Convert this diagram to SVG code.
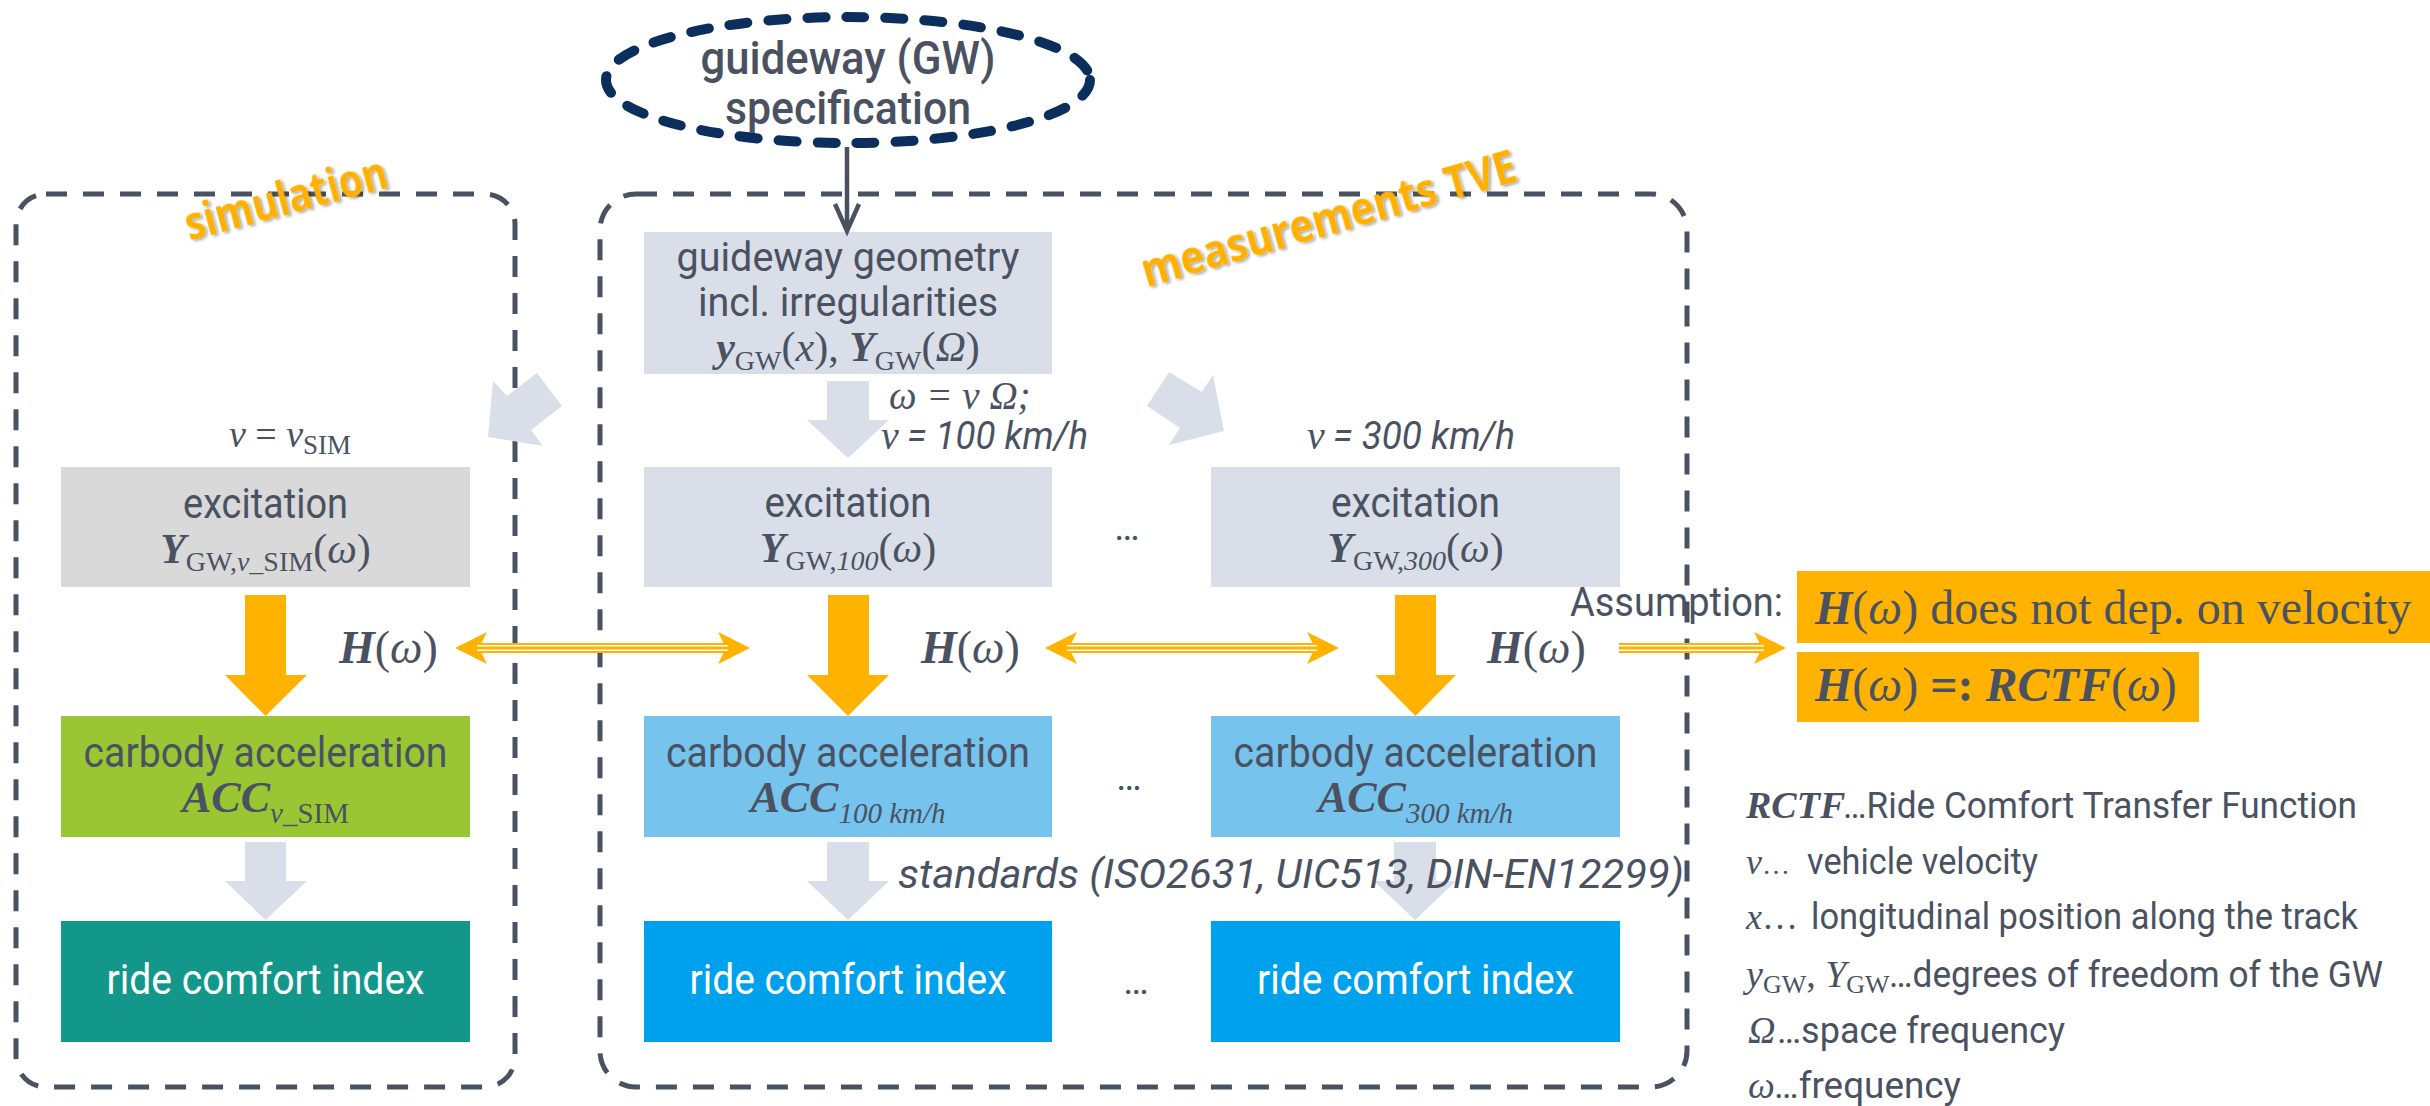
<svg xmlns="http://www.w3.org/2000/svg" width="2430" height="1106" viewBox="0 0 2430 1106">
  <defs>
    <style>
      .sans{font-family:Roboto,'Liberation Sans',Arial,sans-serif;fill:#4a5262}
      .serif{font-family:'Liberation Serif','Times New Roman',serif;fill:#4a5262}
      .bi{font-weight:bold;font-style:italic}
      .it{font-style:italic}
      .frame{fill:none;stroke:#4a5262;stroke-width:5;stroke-dasharray:21 16}
      .spec{fill:none;stroke:#0b2e5c;stroke-width:10;stroke-dasharray:18 21;stroke-linecap:round}
      .pale{fill:#d9dee8}
      .sim-exc{fill:#d9d9d9}
      .acc-sim{fill:#9ac633}
      .acc-meas{fill:#76c3ee}
      .rci-sim{fill:#12978a}
      .rci-meas{fill:#00a1ec}
      .white{fill:#ffffff}
      .tag{font-family:'Open Sans','Liberation Sans',sans-serif;font-weight:bold;font-size:47px;fill:#ffb000}
      .flow{fill:#ffb300}
      .step{fill:#d9dee8}
      .tri{fill:none;stroke:#ffb300;stroke-width:10}
      .triw{fill:none;stroke:#ffffff;stroke-width:1.6}
      .feed{fill:none;stroke:#4a5262;stroke-width:4.5}
      .note{fill:#ffb300}
    </style>
    <marker id="head" viewBox="-12 -17 36 34" markerUnits="userSpaceOnUse" markerWidth="36" markerHeight="34" refX="0" refY="0" orient="auto-start-reverse">
      <path d="M22,0 L-10,-16 L-2,0 L-10,16 Z" fill="#ffb300"/>
    </marker>
    <filter id="shade" x="-10%" y="-40%" width="120%" height="180%">
      <feDropShadow dx="2" dy="2" stdDeviation="1.5" flood-color="#000" flood-opacity="0.35"/>
    </filter>
  </defs>

  <!-- dashed frames -->
  <g id="frame-sim">
    <rect class="frame" x="16" y="194" width="499" height="893" rx="30"/>
  </g>
  <g id="frame-tve">
    <rect class="frame" x="600" y="194" width="1087" height="893" rx="36"/>
  </g>

  <!-- guideway specification -->
  <g id="gw-spec">
    <ellipse class="spec" cx="848" cy="80" rx="242" ry="63"/>
    <text class="sans" font-size="46" font-weight="500" x="848" y="74" text-anchor="middle" textLength="295" lengthAdjust="spacingAndGlyphs">guideway (GW)</text>
    <text class="sans" font-size="46" font-weight="500" x="848" y="124" text-anchor="middle" textLength="246" lengthAdjust="spacingAndGlyphs">specification</text>
  </g>

  <!-- guideway geometry -->
  <g id="geometry">
    <rect class="pale" x="644" y="232" width="408" height="142"/>
    <text class="sans" font-size="40" x="848" y="271" text-anchor="middle" textLength="343" lengthAdjust="spacingAndGlyphs">guideway geometry</text>
    <text class="sans" font-size="40" x="848" y="316" text-anchor="middle" textLength="300" lengthAdjust="spacingAndGlyphs">incl. irregularities</text>
    <text class="serif" font-size="42" x="848" y="361" text-anchor="middle"><tspan class="bi">y</tspan><tspan font-size="28" dy="9">GW</tspan><tspan dy="-9">(</tspan><tspan class="it">x</tspan><tspan>), </tspan><tspan class="bi">Y</tspan><tspan font-size="28" dy="9">GW</tspan><tspan dy="-9">(</tspan><tspan class="it">Ω</tspan><tspan>)</tspan></text>
  </g>

  <!-- excitation nodes -->
  <g id="exc-sim">
    <rect class="sim-exc" x="61" y="467" width="409" height="120"/>
    <text class="sans" font-size="43" x="265.5" y="518" text-anchor="middle" textLength="165" lengthAdjust="spacingAndGlyphs">excitation</text>
    <text class="serif" font-size="42" x="265.5" y="563" text-anchor="middle"><tspan class="bi">Y</tspan><tspan font-size="28" dy="8">GW,</tspan><tspan font-size="28" class="it">v</tspan><tspan font-size="28">_SIM</tspan><tspan dy="-8">(</tspan><tspan class="it">ω</tspan><tspan>)</tspan></text>
  </g>
  <g id="exc-100">
    <rect class="pale" x="644" y="467" width="408" height="120"/>
    <text class="sans" font-size="43" x="848" y="517" text-anchor="middle" textLength="167" lengthAdjust="spacingAndGlyphs">excitation</text>
    <text class="serif" font-size="42" x="848" y="562" text-anchor="middle"><tspan class="bi">Y</tspan><tspan font-size="28" dy="8">GW,</tspan><tspan font-size="28" class="it">100</tspan><tspan dy="-8">(</tspan><tspan class="it">ω</tspan><tspan>)</tspan></text>
  </g>
  <g id="exc-300">
    <rect class="pale" x="1211" y="467" width="409" height="120"/>
    <text class="sans" font-size="43" x="1415.5" y="517" text-anchor="middle" textLength="169" lengthAdjust="spacingAndGlyphs">excitation</text>
    <text class="serif" font-size="42" x="1415.5" y="562" text-anchor="middle"><tspan class="bi">Y</tspan><tspan font-size="28" dy="8">GW,</tspan><tspan font-size="28" class="it">300</tspan><tspan dy="-8">(</tspan><tspan class="it">ω</tspan><tspan>)</tspan></text>
  </g>

  <!-- carbody acceleration nodes -->
  <g id="acc-sim">
    <rect class="acc-sim" x="61" y="716" width="409" height="121"/>
    <text class="sans" font-size="43" x="265.5" y="767" text-anchor="middle" textLength="364" lengthAdjust="spacingAndGlyphs">carbody acceleration</text>
    <text class="serif" font-size="44" x="265.5" y="812" text-anchor="middle"><tspan class="bi">ACC</tspan><tspan font-size="29" dy="11" class="it">v</tspan><tspan font-size="29">_SIM</tspan></text>
  </g>
  <g id="acc-100">
    <rect class="acc-meas" x="644" y="716" width="408" height="121"/>
    <text class="sans" font-size="43" x="848" y="767" text-anchor="middle" textLength="364" lengthAdjust="spacingAndGlyphs">carbody acceleration</text>
    <text class="serif" font-size="44" x="848" y="812" text-anchor="middle"><tspan class="bi">ACC</tspan><tspan font-size="29" dy="11" class="it">100 km/h</tspan></text>
  </g>
  <g id="acc-300">
    <rect class="acc-meas" x="1211" y="716" width="409" height="121"/>
    <text class="sans" font-size="43" x="1415.5" y="767" text-anchor="middle" textLength="364" lengthAdjust="spacingAndGlyphs">carbody acceleration</text>
    <text class="serif" font-size="44" x="1415.5" y="812" text-anchor="middle"><tspan class="bi">ACC</tspan><tspan font-size="29" dy="11" class="it">300 km/h</tspan></text>
  </g>

  <!-- ride comfort index nodes -->
  <g id="rci-sim">
    <rect class="rci-sim" x="61" y="921" width="409" height="121"/>
    <text class="sans white" font-size="43" x="265.5" y="994" text-anchor="middle" textLength="318" lengthAdjust="spacingAndGlyphs">ride comfort index</text>
  </g>
  <g id="rci-100">
    <rect class="rci-meas" x="644" y="921" width="408" height="121"/>
    <text class="sans white" font-size="43" x="848" y="994" text-anchor="middle" textLength="317" lengthAdjust="spacingAndGlyphs">ride comfort index</text>
  </g>
  <g id="rci-300">
    <rect class="rci-meas" x="1211" y="921" width="409" height="121"/>
    <text class="sans white" font-size="43" x="1415.5" y="994" text-anchor="middle" textLength="317" lengthAdjust="spacingAndGlyphs">ride comfort index</text>
  </g>

  <!-- connectors -->
  <g id="connectors">
    <!-- specification feeds the geometry -->
    <line class="feed" x1="847" y1="147" x2="847" y2="230"/>
    <polyline class="feed" points="835,204 847,231 859,204"/>

    <!-- block arrows: geometry to excitations -->
    <polygon class="step" points="827,381 869,381 869,420 889,420 848,458 807,420 827,420"/>
    <polygon class="step" points="493,381 507,396 537,373 562,406 531,430 543,446 488,437"/>
    <polygon class="step" points="1169,372 1202,392 1213,375 1224,431 1169,445 1180,428 1147,406"/>

    <!-- transfer H(ω): excitation to acceleration -->
    <polygon class="flow" points="245,595 286,595 286,675 307,675 265.5,716 225,675 245,675"/>
    <polygon class="flow" points="828,595 869,595 869,675 889,675 848,716 807,675 828,675"/>
    <polygon class="flow" points="1395,595 1436,595 1436,675 1456,675 1415.5,716 1375,675 1395,675"/>

    <!-- acceleration to ride comfort index -->
    <polygon class="step" points="245,842 286,842 286,881 307,881 265.5,920 225,881 245,881"/>
    <polygon class="step" points="827,842 869,842 869,881 889,881 848,920 807,881 827,881"/>
    <polygon class="step" points="1394,842 1436,842 1436,881 1456,881 1415,920 1374,881 1394,881"/>

    <!-- equivalence arrows between the transfer functions -->
    <path class="tri" d="M477,648 H728" marker-start="url(#head)" marker-end="url(#head)"/>
    <path class="triw" d="M477,645.7 H728 M477,650.2 H728"/>
    <path class="tri" d="M1067,648 H1317" marker-start="url(#head)" marker-end="url(#head)"/>
    <path class="triw" d="M1067,645.7 H1317 M1067,650.2 H1317"/>
    <path class="tri" d="M1619,648 H1764" marker-end="url(#head)"/>
    <path class="triw" d="M1619,645.7 H1764 M1619,650.2 H1764"/>
  </g>

  <!-- frame captions -->
  <text class="tag" transform="translate(290,214) rotate(-15)" text-anchor="middle" textLength="208" lengthAdjust="spacingAndGlyphs" filter="url(#shade)">simulation</text>
  <text class="tag" transform="translate(1333,234) rotate(-16)" text-anchor="middle" textLength="388" lengthAdjust="spacingAndGlyphs" filter="url(#shade)">measurements TVE</text>

  <!-- speed labels -->
  <g id="speed-labels">
    <text class="serif" font-size="38" x="290" y="447" text-anchor="middle"><tspan class="it">v</tspan><tspan> = </tspan><tspan class="it">v</tspan><tspan font-size="27" dy="7">SIM</tspan></text>
    <text class="serif it" font-size="39" x="889" y="409">ω = v Ω;</text>
    <text class="serif it" font-size="40" x="881" y="449">v</text>
    <text class="sans it" font-size="38" x="907" y="449" textLength="181" lengthAdjust="spacingAndGlyphs">= 100 km/h</text>
    <text class="serif it" font-size="40" x="1307" y="449">v</text>
    <text class="sans it" font-size="38" x="1333" y="449" textLength="182" lengthAdjust="spacingAndGlyphs">= 300 km/h</text>
  </g>

  <!-- transfer function labels -->
  <g id="h-labels">
    <text class="serif" font-size="46" x="339" y="663"><tspan class="bi">H</tspan><tspan>(</tspan><tspan class="it">ω</tspan><tspan>)</tspan></text>
    <text class="serif" font-size="46" x="921" y="663"><tspan class="bi">H</tspan><tspan>(</tspan><tspan class="it">ω</tspan><tspan>)</tspan></text>
    <text class="serif" font-size="46" x="1487" y="663"><tspan class="bi">H</tspan><tspan>(</tspan><tspan class="it">ω</tspan><tspan>)</tspan></text>
  </g>

  <!-- ellipses between velocities -->
  <g id="more">
    <text class="sans" font-size="38" x="1127" y="540" text-anchor="middle">…</text>
    <text class="sans" font-size="38" x="1129" y="790" text-anchor="middle">…</text>
    <text class="sans" font-size="38" x="1136" y="994" text-anchor="middle">…</text>
  </g>

  <text class="sans it" font-size="41" x="898" y="888" textLength="786" lengthAdjust="spacingAndGlyphs">standards (ISO2631, UIC513, DIN-EN12299)</text>

  <!-- assumption -->
  <g id="assumption">
    <text class="sans" font-size="40" x="1570" y="616" textLength="213" lengthAdjust="spacingAndGlyphs">Assumption:</text>
    <rect class="note" x="1797" y="571" width="640" height="72"/>
    <text class="serif" font-size="48" x="1815" y="624"><tspan class="bi">H</tspan><tspan>(</tspan><tspan class="it">ω</tspan><tspan>) does not dep. on velocity</tspan></text>
  </g>
  <g id="rctf-def">
    <rect class="note" x="1797" y="652" width="402" height="70"/>
    <text class="serif" font-size="48" x="1815" y="701"><tspan class="bi">H</tspan><tspan>(</tspan><tspan class="it">ω</tspan><tspan>) </tspan><tspan font-weight="bold">=: </tspan><tspan class="bi">RCTF</tspan><tspan>(</tspan><tspan class="it">ω</tspan><tspan>)</tspan></text>
  </g>

  <!-- symbol legend -->
  <g id="legend">
    <text class="serif bi" font-size="38" x="1746" y="818">RCTF</text>
    <text class="sans" font-size="37" x="1843" y="818" textLength="514" lengthAdjust="spacingAndGlyphs">…Ride Comfort Transfer Function</text>

    <text class="serif" font-size="36" x="1746" y="874"><tspan class="it">v</tspan><tspan font-size="28">…</tspan></text>
    <text class="sans" font-size="37" x="1807" y="874" textLength="231" lengthAdjust="spacingAndGlyphs">vehicle velocity</text>

    <text class="serif" font-size="36" x="1746" y="929"><tspan class="it">x</tspan><tspan>…</tspan></text>
    <text class="sans" font-size="37" x="1811" y="929" textLength="547" lengthAdjust="spacingAndGlyphs">longitudinal position along the track</text>

    <text class="serif" font-size="38" x="1746" y="987"><tspan class="it">y</tspan><tspan font-size="26" dy="6">GW</tspan><tspan dy="-6">, </tspan><tspan class="it">Y</tspan><tspan font-size="26" dy="6">GW</tspan></text>
    <text class="sans" font-size="37" x="1889" y="987" textLength="494" lengthAdjust="spacingAndGlyphs">…degrees of freedom of the GW</text>

    <text class="serif it" font-size="38" x="1748" y="1043">Ω</text>
    <text class="sans" font-size="37" x="1777" y="1043" textLength="288" lengthAdjust="spacingAndGlyphs">…space frequency</text>

    <text class="serif it" font-size="38" x="1748" y="1098">ω</text>
    <text class="sans" font-size="37" x="1774" y="1098" textLength="187" lengthAdjust="spacingAndGlyphs">…frequency</text>
  </g>
</svg>
